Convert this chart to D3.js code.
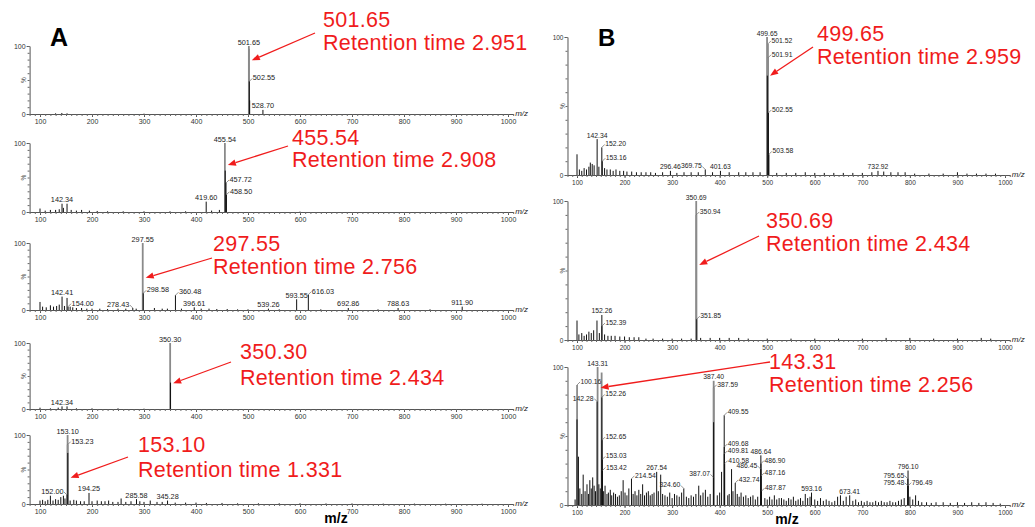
<!DOCTYPE html>
<html>
<head>
<meta charset="utf-8">
<script src="https://cdn.jsdelivr.net/npm/d3@7"></script>
<style>
 body { margin: 0; background: #fff; }
 text { font-family: "Liberation Sans", Arial, sans-serif; }
</style>
</head>
<body>
<script>
var w = 1035;
var h = 527;

// x axis tick labels (m/z)
var xTicks = [100, 200, 300, 400, 500, 600, 700, 800, 900, 1000];

// labelled peaks per spectrum: [m/z, relative intensity %]
var peaksA1 = [[501.65, 100], [502.55, 48], [528.70, 6]];
var peaksA2 = [[455.54, 100], [457.72, 42], [458.50, 25], [419.60, 15], [142.34, 12]];
var peaksA3 = [[297.55, 100], [298.58, 25], [142.41, 20], [154.00, 5], [278.43, 3], [360.48, 22],
               [396.61, 4], [539.26, 2], [593.55, 16], [616.03, 23], [692.86, 3], [788.63, 3], [911.90, 5]];
var peaksA4 = [[350.30, 100], [142.34, 4]];
var peaksA5 = [[153.10, 100], [153.23, 86], [152.00, 13], [194.25, 16], [285.58, 7], [345.28, 5]];
var peaksB1 = [[499.65, 100], [501.52, 95], [501.91, 85], [502.55, 45], [503.58, 15], [142.34, 26],
               [152.20, 20], [153.16, 10], [296.46, 3], [369.75, 4], [401.63, 3], [732.92, 3]];
var peaksB2 = [[350.69, 100], [350.94, 90], [351.85, 15], [152.26, 18], [152.39, 10]];
var peaksB3 = [[143.31, 100], [100.16, 87], [142.28, 75], [152.26, 78], [152.65, 47], [153.03, 33],
               [153.42, 25], [214.54, 19], [267.54, 24], [324.60, 12], [387.40, 90], [387.59, 85],
               [387.07, 20], [409.55, 65], [409.68, 42], [409.81, 37], [410.58, 30], [432.74, 16],
               [486.64, 36], [486.90, 30], [486.45, 26], [487.16, 21], [487.87, 10], [593.16, 9],
               [673.41, 7], [796.10, 25], [795.65, 19], [795.48, 14], [796.49, 14]];

// unlabelled peaks: [m/z, %]
var noiseA1 = [[130, 1], [142, 1.5], [152, 1], [501.9, 96], [503.2, 20], [300, 0.5]];
var noiseA2 = [[100, 5], [110, 2], [120, 3], [130, 3], [137, 4], [145, 6], [152, 12], [160, 3], [170, 2],
               [180, 3], [195, 2], [210, 1.5], [230, 1], [260, 1], [300, 1], [350, 1], [380, 1], [430, 2],
               [445, 3], [456.2, 60], [600, 0.5]];
var noiseA3 = [[100, 12], [105, 5], [112, 4], [120, 7], [126, 5], [132, 6], [137, 8], [147, 6], [152, 18],
               [158, 5], [163, 4], [170, 3], [180, 3], [190, 2], [200, 2], [215, 2], [230, 1.5], [250, 2],
               [265, 2], [285, 2], [320, 3], [335, 2], [345, 2], [372, 2], [410, 2], [425, 2], [440, 1.5],
               [460, 1.5], [480, 1], [500, 1], [560, 1], [640, 1], [750, 1], [850, 1]];
var noiseA4 = [[100, 2], [120, 1], [135, 2], [152, 4], [170, 1], [200, 1], [250, 1], [300, 0.5], [351, 40]];
var noiseA5 = [[100, 5], [105, 6], [110, 4], [115, 6], [120, 12], [125, 5], [130, 7], [135, 6], [140, 10],
               [145, 12], [148, 8], [153.4, 74], [158, 5], [165, 6], [170, 5], [178, 4], [185, 4], [200, 4],
               [210, 5], [218, 4], [225, 4], [232, 5], [240, 3], [250, 3], [256, 8], [265, 3], [275, 4],
               [292, 4], [300, 3], [312, 5], [325, 3], [335, 3], [360, 2], [380, 2], [400, 2], [420, 1.5],
               [450, 1.5], [480, 1], [520, 1], [560, 1], [600, 1], [650, 0.8], [700, 0.8], [760, 0.6],
               [820, 0.6], [880, 0.5], [950, 0.5]];
var noiseB1 = [[100, 15], [105, 4], [110, 3], [115, 5], [120, 4], [125, 6], [128, 9], [132, 8], [136, 7],
               [146, 6], [158, 5], [163, 4], [170, 4], [176, 3], [182, 4], [190, 3], [198, 3], [205, 2.5],
               [215, 2.5], [225, 2], [235, 2], [245, 2], [255, 2], [265, 1.5], [280, 2], [310, 1.5],
               [325, 2], [340, 2], [355, 2], [385, 2], [420, 2], [440, 2], [455, 2], [470, 2], [485, 2],
               [500.3, 72], [520, 1.5], [540, 1.5], [560, 1.5], [580, 2], [600, 1.5], [620, 1.5], [640, 1.5],
               [660, 1.5], [680, 1.5], [700, 1.5], [720, 2], [745, 2.5], [760, 2], [775, 2], [790, 2],
               [810, 1], [840, 1], [870, 1], [900, 2], [920, 1], [940, 1], [960, 1], [980, 1]];
var noiseB2 = [[100, 14], [104, 4], [110, 5], [115, 3], [120, 4], [125, 6], [130, 5], [135, 7], [142, 14],
               [147, 5], [158, 4], [165, 3], [172, 3], [180, 3], [190, 2.5], [200, 2.5], [210, 2], [220, 2],
               [230, 2], [245, 1], [260, 1], [280, 1], [300, 1], [320, 1], [340, 1], [360, 1.5], [380, 1.5],
               [400, 1.5], [420, 1.5], [440, 1.5], [460, 1], [500, 1], [550, 1], [600, 1], [650, 1], [700, 1],
               [750, 1.5], [800, 1.5], [850, 1], [900, 1], [950, 1.5], [970, 1]];
var noiseB3 = [[96, 4], [100, 62], [103, 35], [106, 12], [110, 8], [113, 22], [117, 10], [121, 15], [124, 8],
               [127, 18], [130, 12], [133, 20], [136, 14], [139, 10], [146, 15], [149, 12], [151.8, 96],
               [156, 10], [159, 14], [163, 8], [166, 9], [170, 11], [173, 7], [177, 9], [181, 8], [185, 6],
               [189, 7], [193, 10], [197, 18], [201, 9], [205, 7], [209, 12], [218, 8], [222, 10], [226, 7],
               [230, 11], [234, 8], [238, 15], [242, 7], [246, 9], [250, 10], [254, 7], [258, 8], [262, 9],
               [271, 10], [276, 22], [280, 8], [285, 7], [290, 6], [295, 9], [300, 5], [305, 8], [310, 7],
               [315, 6], [320, 9], [330, 6], [335, 5], [340, 7], [345, 6], [350, 8], [356, 14], [360, 7],
               [365, 9], [370, 11], [375, 6], [380, 8], [387.2, 60], [395, 7], [400, 9], [404, 24], [417, 7],
               [420, 8], [425, 26], [428, 10], [437, 8], [441, 6], [445, 9], [450, 6], [455, 7], [460, 5],
               [465, 6], [470, 7], [475, 4], [480, 6], [495, 5], [500, 4], [505, 6], [510, 4], [515, 7],
               [520, 4], [525, 5], [530, 5], [535, 4], [540, 3], [545, 5], [550, 4], [555, 6], [560, 3],
               [565, 4], [570, 5], [575, 3], [580, 8], [585, 5], [590, 6], [600, 4], [606, 3], [612, 5],
               [618, 3], [624, 4], [630, 3], [636, 2], [642, 3], [648, 6], [654, 7], [660, 3], [666, 6],
               [680, 3], [686, 4], [692, 2], [698, 3], [704, 2], [710, 3], [716, 2], [722, 2], [728, 3],
               [734, 2], [740, 3], [746, 2], [752, 2], [758, 3], [764, 2], [770, 2], [776, 3], [782, 4],
               [788, 5], [800, 6], [806, 4], [812, 7], [818, 3], [825, 2], [835, 2], [845, 1.5], [855, 2],
               [870, 2], [885, 1.5], [900, 2], [915, 1.5], [930, 2], [945, 1.5], [960, 2], [975, 1.5], [990, 1]];

// red annotations
var noteMz = ["501.65", "455.54", "297.55", "350.30", "153.10", "499.65", "350.69", "143.31"];
var noteRt = ["2.951", "2.908", "2.756", "2.434", "1.331", "2.959", "2.434", "2.256"];
var notePct = [79, 68, 48, 39, 38, 72, 54, 85];

// label placement: left / right of peak with a leader, otherwise centred
var leftLabels = ["278.43", "152.00", "369.75", "142.28", "324.60", "387.07", "486.45", "795.65", "795.48"];
var rightLabels = ["502.55", "457.72", "458.50", "298.58", "154.00", "360.48", "616.03", "153.23",
                   "501.52", "501.91", "503.58", "152.20", "153.16", "350.94", "351.85", "152.39",
                   "100.16", "152.26b", "152.65", "153.03", "153.42", "214.54", "387.59", "409.55",
                   "409.68", "409.81", "410.58", "432.74", "486.90", "487.16", "487.87", "796.49"];

var colA = {x100: 40, x1000: 508, fs: 7.3, tfs: 7, pctX: 24};
var colB = {x100: 577, x1000: 1005, fs: 6.8, tfs: 6.5, pctX: 563};

var layout = [
    {col: colA, top: 46, bot: 114, tx: 323, b1: 27, b2: 50, from: [315, 33]},
    {col: colA, top: 143, bot: 212, tx: 292, b1: 145, b2: 167, from: [288, 146]},
    {col: colA, top: 243, bot: 310, tx: 213, b1: 251, b2: 274, from: [212, 258]},
    {col: colA, top: 343, bot: 409, tx: 240, b1: 359, b2: 385, from: [231, 362]},
    {col: colA, top: 435, bot: 504, tx: 138, b1: 452, b2: 477, from: [128, 457]},
    {col: colB, top: 37, bot: 175, tx: 817, b1: 41, b2: 64, from: [813, 47]},
    {col: colB, top: 201, bot: 340, tx: 766, b1: 228, b2: 251, from: [759, 236]},
    {col: colB, top: 367, bot: 505, tx: 769, b1: 369, b2: 392, from: [770, 362]}
];

var peaks = [peaksA1, peaksA2, peaksA3, peaksA4, peaksA5, peaksB1, peaksB2, peaksB3];
var noise = [noiseA1, noiseA2, noiseA3, noiseA4, noiseA5, noiseB1, noiseB2, noiseB3];

var svg = d3.select("body")
        .append("svg")
        .attr("width", w)
        .attr("height", h);

var red = "#f01c1c";

layout.forEach(function (L, n) {
    var k = (L.col.x1000 - L.col.x100) / 900;
    var x = d3.scaleLinear()
            .domain([80, 1010])
            .range([L.col.x100 - 20 * k, L.col.x100 + 910 * k]);
    var y = d3.scaleLinear()
            .domain([0, 100])
            .range([L.bot, L.top]);
    var g = svg.append("g");

    // x axis
    var ax = g.append("g")
            .attr("transform", "translate(0," + L.bot + ")")
            .call(d3.axisBottom(x).tickValues(xTicks).tickFormat(d3.format("d"))
                    .tickSize(3).tickSizeOuter(0).tickPadding(2));
    ax.selectAll("text").style("font-size", L.col.tfs + "px").attr("fill", "#333");
    ax.selectAll("line").attr("stroke", "#555");
    ax.select(".domain").attr("stroke", "#555");
    g.append("g")
            .attr("transform", "translate(0," + L.bot + ")")
            .call(d3.axisBottom(x).tickValues(d3.range(80, 1011, 10)).tickSize(2).tickFormat(""))
            .call(function (s) { s.select(".domain").remove(); s.selectAll("line").attr("stroke", "#666"); });
    g.append("text")
            .attr("x", x(1010) + 2)
            .attr("y", L.bot + 2)
            .style("font-size", "8px")
            .style("font-style", "italic")
            .attr("fill", "#222")
            .text("m/z");

    // y axis
    var ay = g.append("g")
            .attr("transform", "translate(" + x(80) + ",0)")
            .call(d3.axisLeft(y).tickValues([0, 100]).tickSize(3).tickSizeOuter(0).tickPadding(1));
    ay.selectAll("text").style("font-size", L.col.tfs + "px").attr("fill", "#333");
    ay.selectAll("line").attr("stroke", "#555");
    ay.select(".domain").attr("stroke", "#555");
    g.append("g")
            .attr("transform", "translate(" + x(80) + ",0)")
            .call(d3.axisLeft(y).tickValues(d3.range(0, 101, 10)).tickSize(2).tickFormat(""))
            .call(function (s) { s.select(".domain").remove(); s.selectAll("line").attr("stroke", "#666"); });
    g.append("text")
            .attr("transform", "translate(" + (L.col.pctX + 2) + "," + y(50) + ") rotate(-90)")
            .attr("text-anchor", "middle")
            .style("font-size", "6.5px")
            .attr("fill", "#333")
            .text("%");

    // peaks: tall ones grey behind, the rest black on top
    var all = noise[n].concat(peaks[n]).slice().sort(function (a, b) { return b[1] - a[1]; });
    g.selectAll("line.peak")
            .data(all)
            .enter()
            .append("line")
            .attr("class", "peak")
            .attr("x1", function (d) { return x(d[0]); })
            .attr("x2", function (d) { return x(d[0]); })
            .attr("y1", y(0))
            .attr("y2", function (d) { return y(d[1]); })
            .attr("stroke", function (d) { return d[1] >= 80 ? "#8a8a8a" : "#111"; })
            .attr("stroke-width", function (d) { return d[1] >= 80 ? 1.8 : 1; });

    // peak labels
    peaks[n].forEach(function (d) {
        var lab = d[0].toFixed(2);
        var key = (n === 7 && lab === "152.26") ? "152.26b" : lab;
        var px = x(d[0]), py = y(d[1]);
        var side = leftLabels.indexOf(key) >= 0 ? "l" : (rightLabels.indexOf(key) >= 0 ? "r" : "c");
        var t = g.append("text")
                .style("font-size", L.col.fs + "px")
                .attr("fill", "#222")
                .text(lab);
        if (side === "c") {
            t.attr("x", px).attr("y", py - 1.5).attr("text-anchor", "middle");
        } else {
            var dir = side === "r" ? 1 : -1;
            g.append("line")
                    .attr("x1", px).attr("y1", py)
                    .attr("x2", px + dir * 3).attr("y2", py - 3)
                    .attr("stroke", "#666").attr("stroke-width", 0.7);
            t.attr("x", px + dir * 3.5).attr("y", py - 1)
                    .attr("text-anchor", side === "r" ? "start" : "end");
        }
    });

    // red annotation with arrow
    g.append("text")
            .attr("x", L.tx).attr("y", L.b1)
            .style("font-size", "21.5px")
            .style("letter-spacing", "0.3px")
            .attr("fill", red)
            .text(noteMz[n]);
    g.append("text")
            .attr("x", L.tx).attr("y", L.b2)
            .style("font-size", "21.5px")
            .style("letter-spacing", "0.3px")
            .attr("fill", red)
            .text("Retention time " + noteRt[n]);
    var tipX = x(+noteMz[n]) + 3, tipY = y(notePct[n]);
    var fx = L.from[0], fy = L.from[1];
    var ang = Math.atan2(tipY - fy, tipX - fx);
    var hl = 8, hw = 3.2;
    var bx = tipX - hl * Math.cos(ang), by = tipY - hl * Math.sin(ang);
    g.append("line")
            .attr("x1", fx).attr("y1", fy)
            .attr("x2", bx).attr("y2", by)
            .attr("stroke", red).attr("stroke-width", 1.3);
    g.append("path")
            .attr("d", "M" + tipX + "," + tipY +
                    "L" + (bx + hw * Math.sin(ang)) + "," + (by - hw * Math.cos(ang)) +
                    "L" + (bx - hw * Math.sin(ang)) + "," + (by + hw * Math.cos(ang)) + "Z")
            .attr("fill", red);
});

// panel letters and bottom axis titles
svg.append("text").attr("x", 50).attr("y", 46)
        .style("font-size", "25px").style("font-weight", "bold").text("A");
svg.append("text").attr("x", 598).attr("y", 46)
        .style("font-size", "24px").style("font-weight", "bold").text("B");
svg.append("text").attr("x", 336).attr("y", 523).attr("text-anchor", "middle")
        .style("font-size", "14px").style("font-weight", "bold").text("m/z");
svg.append("text").attr("x", 787).attr("y", 524).attr("text-anchor", "middle")
        .style("font-size", "14px").style("font-weight", "bold").text("m/z");
</script>
</body>
</html>
